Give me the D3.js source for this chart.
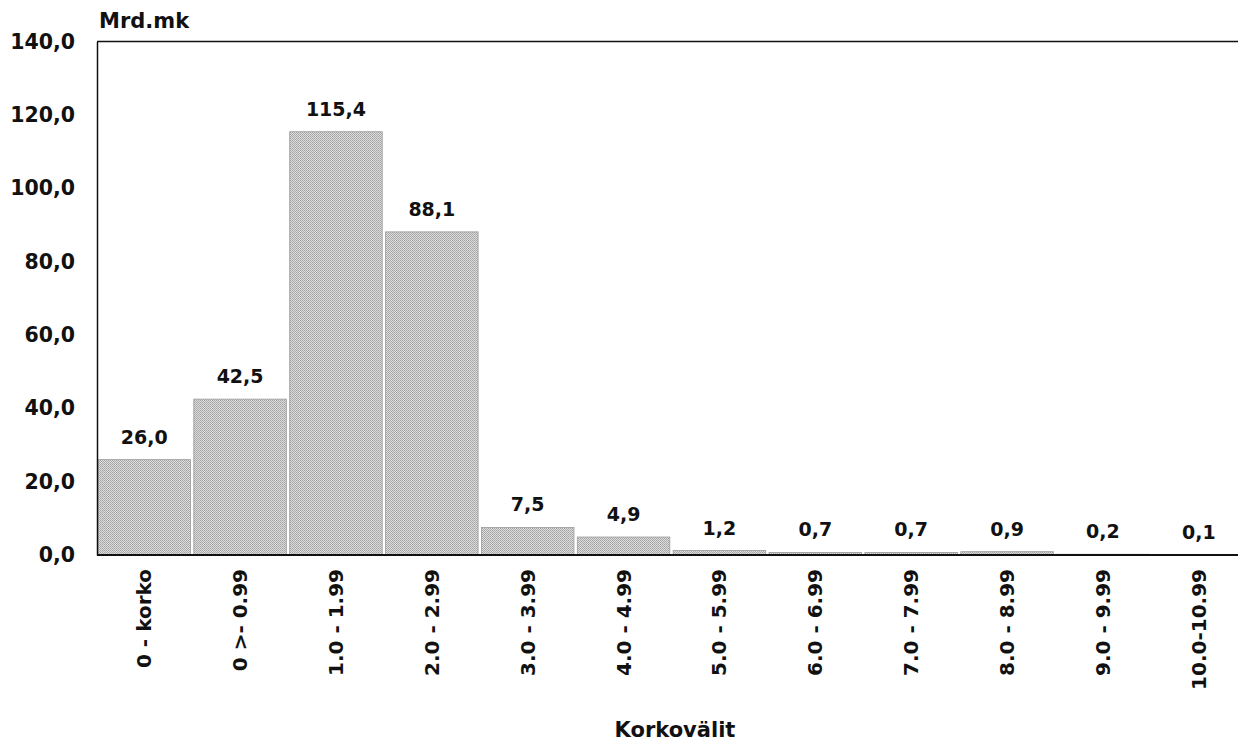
<!DOCTYPE html>
<html lang="fi">
<head>
  <meta charset="UTF-8" />
  <title>Korkovälit</title>
  <script src="https://d3js.org/d3.v7.min.js"></script>
  <style>
    body { margin: 0; background: #fff; }
    svg { display: block; }
    text { font-family: "DejaVu Sans", sans-serif; font-weight: bold; fill: #111; }
  </style>
</head>
<body>
  <div id="chart"></div>
  <script>
    const width = 1238, height = 745;

    // Data
    const categories = ["0 - korko", "0 >- 0.99", "1.0 - 1.99", "2.0 - 2.99", "3.0 - 3.99", "4.0 - 4.99",
      "5.0 - 5.99", "6.0 - 6.99", "7.0 - 7.99", "8.0 - 8.99", "9.0 - 9.99", "10.0-10.99"];
    const values = [26.0, 42.5, 115.4, 88.1, 7.5, 4.9, 1.2, 0.7, 0.7, 0.9, 0.2, 0.1];
    const yTicks = [0, 20, 40, 60, 80, 100, 120, 140];

    // plot area
    const plotL = 97, plotT = 41.5, plotB = 555, plotR = 1246;
    const fmt = v => v.toFixed(1).replace('.', ',');
    const fontFam = '"DejaVu Sans", sans-serif';

    const svg = d3.select('#chart').append('svg')
      .attr('width', width)
      .attr('height', height);

    // stippled grey fill
    const pat = svg.append('defs').append('pattern')
      .attr('id', 'stipple').attr('patternUnits', 'userSpaceOnUse')
      .attr('width', 2).attr('height', 2);
    pat.append('rect').attr('width', 2).attr('height', 2).attr('fill', '#dedede');
    pat.append('rect').attr('x', 0).attr('y', 0).attr('width', 1).attr('height', 1).attr('fill', '#a2a2a2');
    pat.append('rect').attr('x', 1).attr('y', 1).attr('width', 1).attr('height', 1).attr('fill', '#acacac');

    const x = d3.scaleBand().domain(categories).range([plotL, plotR]).paddingInner(0.035).paddingOuter(0.01);
    const y = d3.scaleLinear().domain([0, 140]).range([plotB, plotT]);

    // bars
    svg.selectAll('rect.bar').data(values).join('rect')
      .attr('class', 'bar')
      .attr('x', (d, i) => x(categories[i]))
      .attr('width', x.bandwidth())
      .attr('y', d => y(d))
      .attr('height', d => plotB - y(d))
      .attr('fill', 'url(#stipple)')
      .attr('stroke', '#9a9a9a')
      .attr('stroke-width', 0.8);

    // value labels
    svg.selectAll('text.val').data(values).join('text')
      .attr('class', 'val')
      .attr('x', (d, i) => x(categories[i]) + x.bandwidth() / 2)
      .attr('y', d => y(d) - 16)
      .attr('text-anchor', 'middle')
      .attr('font-size', 19)
      .text(fmt);

    // frame lines
    svg.append('line').attr('x1', plotL).attr('x2', width).attr('y1', plotT).attr('y2', plotT)
      .attr('stroke', '#111').attr('stroke-width', 1.6);
    svg.append('line').attr('x1', plotL).attr('x2', width).attr('y1', plotB).attr('y2', plotB)
      .attr('stroke', '#111').attr('stroke-width', 2);

    // y axis
    const yAxis = svg.append('g').attr('transform', `translate(${plotL},0)`)
      .call(d3.axisLeft(y).tickValues(yTicks).tickSize(0).tickPadding(22).tickFormat(fmt));
    yAxis.select('.domain').attr('stroke', '#111').attr('stroke-width', 1.5);
    yAxis.selectAll('text').attr('font-size', 20.5).attr('font-family', fontFam)
      .attr('font-weight', 'bold').attr('fill', '#111');

    // x axis labels (rotated)
    const xAxis = svg.append('g').attr('transform', `translate(0,${plotB})`)
      .call(d3.axisBottom(x).tickSize(0));
    xAxis.select('.domain').remove();
    xAxis.selectAll('text')
      .attr('font-size', 20).attr('font-family', fontFam)
      .attr('font-weight', 'bold').attr('fill', '#111')
      .attr('text-anchor', 'end')
      .attr('transform', 'rotate(-90)')
      .attr('x', -14).attr('y', 0).attr('dy', '0.35em');

    // titles
    svg.append('text').attr('x', 99).attr('y', 28).attr('font-size', 21).text('Mrd.mk');
    svg.append('text').attr('x', 675).attr('y', 737).attr('text-anchor', 'middle')
      .attr('font-size', 21).text('Korkovälit');
  </script>
</body>
</html>
